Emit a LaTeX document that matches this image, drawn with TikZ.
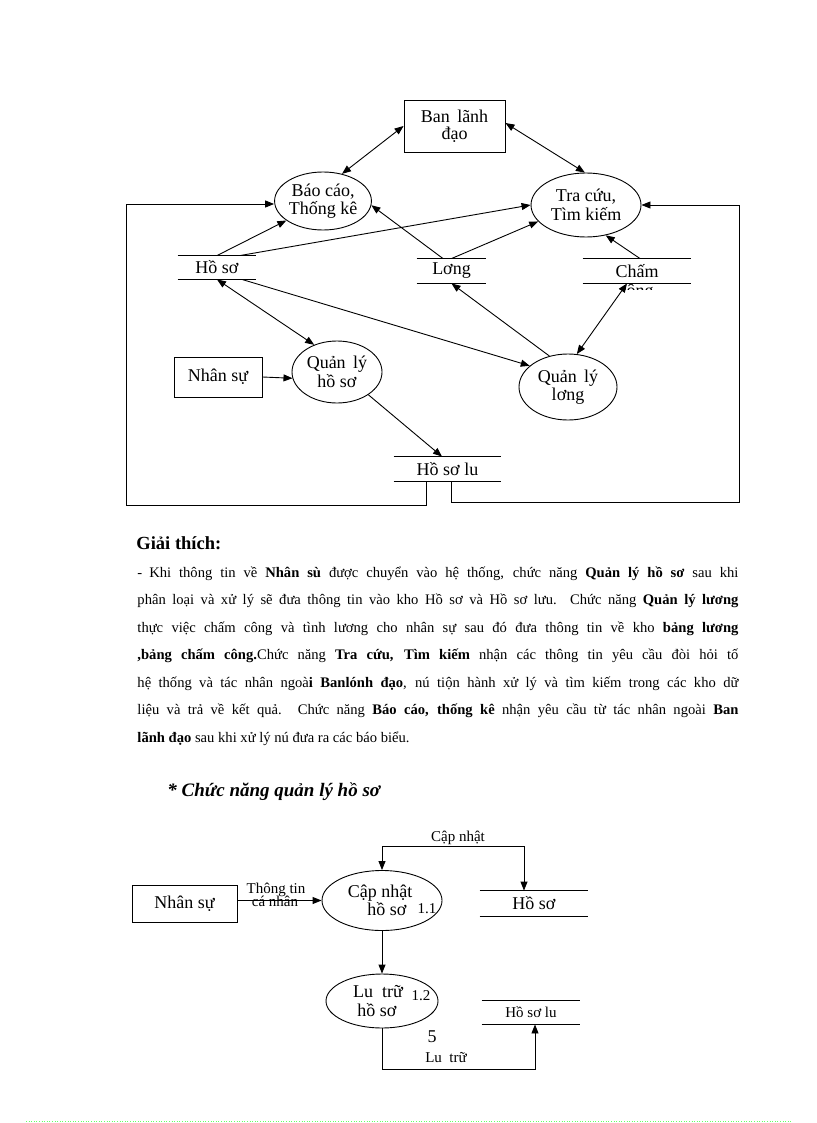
\documentclass[tikz,border=0pt]{standalone}
\usepackage{fontspec}
\setmainfont{Liberation Serif}
\usetikzlibrary{shapes.geometric,arrows.meta}
\begin{document}
\begin{tikzpicture}[x=1pt,y=-1pt, line width=0.9pt,
  dtext/.style={font=\fontsize{18}{18.5}\selectfont},
  stext/.style={font=\fontsize{15}{16}\selectfont},
  ptext/.style={font=\fontsize{14.6}{27.5}\selectfont, inner sep=0pt, anchor=base west},
  proc/.style={ellipse, draw, inner sep=0pt, align=center, dtext},
  ent/.style={rectangle, draw, inner sep=0pt, align=center, dtext},
  store/.style={inner sep=0pt, dtext, append after command={
      (\tikzlastnode.north west) edge (\tikzlastnode.north east)
      (\tikzlastnode.south west) edge (\tikzlastnode.south east)}},
  arr/.style={-{Triangle[length=9pt,width=7pt]}},
  barr/.style={{Triangle[length=9pt,width=7pt]}-{Triangle[length=9pt,width=7pt]}},
  lbl/.style={inner sep=0pt, anchor=base},
]
\fill[white] (0,0) rectangle (816,1123);
\useasboundingbox (0,0) rectangle (816,1123);

% ---------- top diagram ----------
\node[ent, minimum width=101pt, minimum height=52pt, font=\fontsize{18}{16.5}\selectfont] (ban) at (454.5,126) {Ban\, lãnh\\đạo};
\node[proc, minimum width=94pt, minimum height=58pt] (bc) at (323,201) {Báo cáo,\\Thống kê};
\node[proc, minimum width=110pt, minimum height=64pt] (tc) at (586,205) {Tra cứu,\\Tìm kiếm};
\node[store, minimum width=78pt, minimum height=23pt] (hs) at (217,267.5) {Hồ sơ};
\node[store, minimum width=69pt, minimum height=24pt] (luong) at (451.5,271) {Lơng};
\node[store, minimum width=108pt, minimum height=24pt] (cc) at (637,271) {Chấm};
\begin{scope}
  \clip (580,283.6) rectangle (700,289.5);
  \node[lbl, dtext] (ccb) at (636,296) {công};
\end{scope}
\node[ent, minimum width=88pt, minimum height=40pt] (ns) at (218,377) {Nhân sự};
\node[proc, minimum width=90pt, minimum height=62pt] (qlhs) at (337,372) {Quản\, lý\\hồ sơ};
\node[proc, minimum width=98pt, minimum height=66pt] (qll) at (568,387) {Quản\, lý\\lơng};
\node[store, minimum width=107pt, minimum height=24pt] (hslu) at (447.5,469) {Hồ sơ lu};

\draw[barr] (ban.west) -- (bc.55);
\draw[barr] ([yshift=3pt]ban.east) -- (tc.92);
\draw[arr] (hs.north) -- (bc.208);
\draw[arr] ([xshift=23pt]hs.north) -- (tc.west);
\draw[arr] ([xshift=-8.5pt]luong.north) -- (bc.355);
\draw[arr] (luong.north) -- (tc.199);
\draw[arr] ([xshift=3pt]cc.north) -- (tc.303);
\draw[barr] (hs.south) -- (qlhs.130);
\draw[arr] ([xshift=25pt]hs.south) -- (qll.151);
\draw[arr] (qll.121) -- (luong.south);
\draw[barr] (qll.75) -- ([xshift=-10pt]cc.south);
\draw[arr] (ns.east) -- (qlhs.188);
\draw[arr] (qlhs.324) -- ([xshift=-5.5pt]hslu.north);
\draw[arr] ([xshift=3.5pt]hslu.south) -- ++(0,21) -| ([xshift=98pt]tc.east) -- (tc.east);
\draw[arr] ([xshift=-21.5pt]hslu.south) -- ++(0,24) -| ([xshift=-148pt,yshift=-3pt]bc.west) -- ([yshift=-3pt]bc.west);

% ---------- text ----------
\node[lbl, anchor=base west, font=\fontsize{18.5}{20}\selectfont\bfseries] (gt) at (136,549) {Giải thích:};
\node[ptext] (p1) at (137,577) {\hbox to 601pt{-\hspace{7pt}Khi thông tin về \textbf{Nhân sù} được chuyển vào hệ thống, chức năng \textbf{Quản lý hồ sơ} sau khi}};
\node[ptext] (p2) at (137,604.5) {\hbox to 601pt{phân loại và xử lý sẽ đưa thông tin vào kho Hồ sơ và Hồ sơ lưu. Chức năng \textbf{Quản lý lương}}};
\node[ptext] (p3) at (137,632) {\hbox to 601pt{thực việc chấm công và tình lương cho nhân sự sau đó đưa thông tin về kho \textbf{bảng lương}}};
\node[ptext] (p4) at (137,659.5) {\hbox to 601pt{\textbf{,bảng chấm công.}Chức năng \textbf{Tra cứu, Tìm kiếm} nhận các thông tin yêu cầu đòi hỏi tố}};
\node[ptext] (p5) at (137,687) {\hbox to 601pt{hệ thống và tác nhân ngoà\textbf{i Banlónh đạo}, nú tiộn hành xử lý và tìm kiếm trong các kho dữ}};
\node[ptext] (p6) at (137,714.5) {\hbox to 601pt{liệu và trả về kết quả. Chức năng \textbf{Báo cáo, thống kê} nhận yêu cầu từ tác nhân ngoài \textbf{Ban}}};
\node[ptext] (p7) at (137,742) {\textbf{lãnh đạo} sau khi xử lý nú đưa ra các báo biểu.};

\node[lbl, anchor=base west, font=\fontsize{19}{20}\selectfont\bfseries\itshape] (sub) at (167,796) {* Chức năng quản lý hồ sơ};

% ---------- bottom diagram ----------
\node[ent, minimum width=105pt, minimum height=37pt] (ns2) at (184.5,903.5) {Nhân sự};
\node[proc, minimum width=120pt, minimum height=60pt] (cn) at (382,900.5) {Cập nhật\hspace*{4pt}\\\hspace*{10pt}hồ sơ};
\node[store, minimum width=108pt, minimum height=25pt] (hs2) at (534,903.5) {Hồ sơ};
\node[proc, minimum width=112pt, minimum height=54pt] (lt) at (382,1001) {Lu\enspace trữ\hspace*{8pt}\\hồ sơ\hspace*{10pt}};
\node[store, stext, minimum width=98pt, minimum height=23pt] (hslu2) at (531,1012.5) {Hồ sơ lu};

\node[lbl, stext] (l11) at (427,913) {1.1};
\node[lbl, stext] (l12) at (421,1000) {1.2};
\node[lbl, dtext] (l5) at (432,1042) {5};
\node[lbl, stext] (lcn) at (458,841) {Cập nhật};
\node[lbl, stext] (llt) at (446,1062) {Lu\enspace trữ};
\node[lbl, stext] (ltt) at (276,893) {Thông tin};
\node[lbl, stext] (lcnh) at (275,906) {cá nhân};

\draw[arr] (ns2.east |- cn.west) -- (cn.west);
\draw[barr] (cn.north) -- ++(0,-23.5) -| ([xshift=-10pt]hs2.north);
\draw[arr] (cn.south) -- (lt.north);
\draw[arr] (lt.south) -- ++(0,41) -| ([xshift=4pt]hslu2.south);

\draw[green!60, line width=0.6pt, dotted] (26,1121) -- (791,1121);
\end{tikzpicture}
\end{document}
